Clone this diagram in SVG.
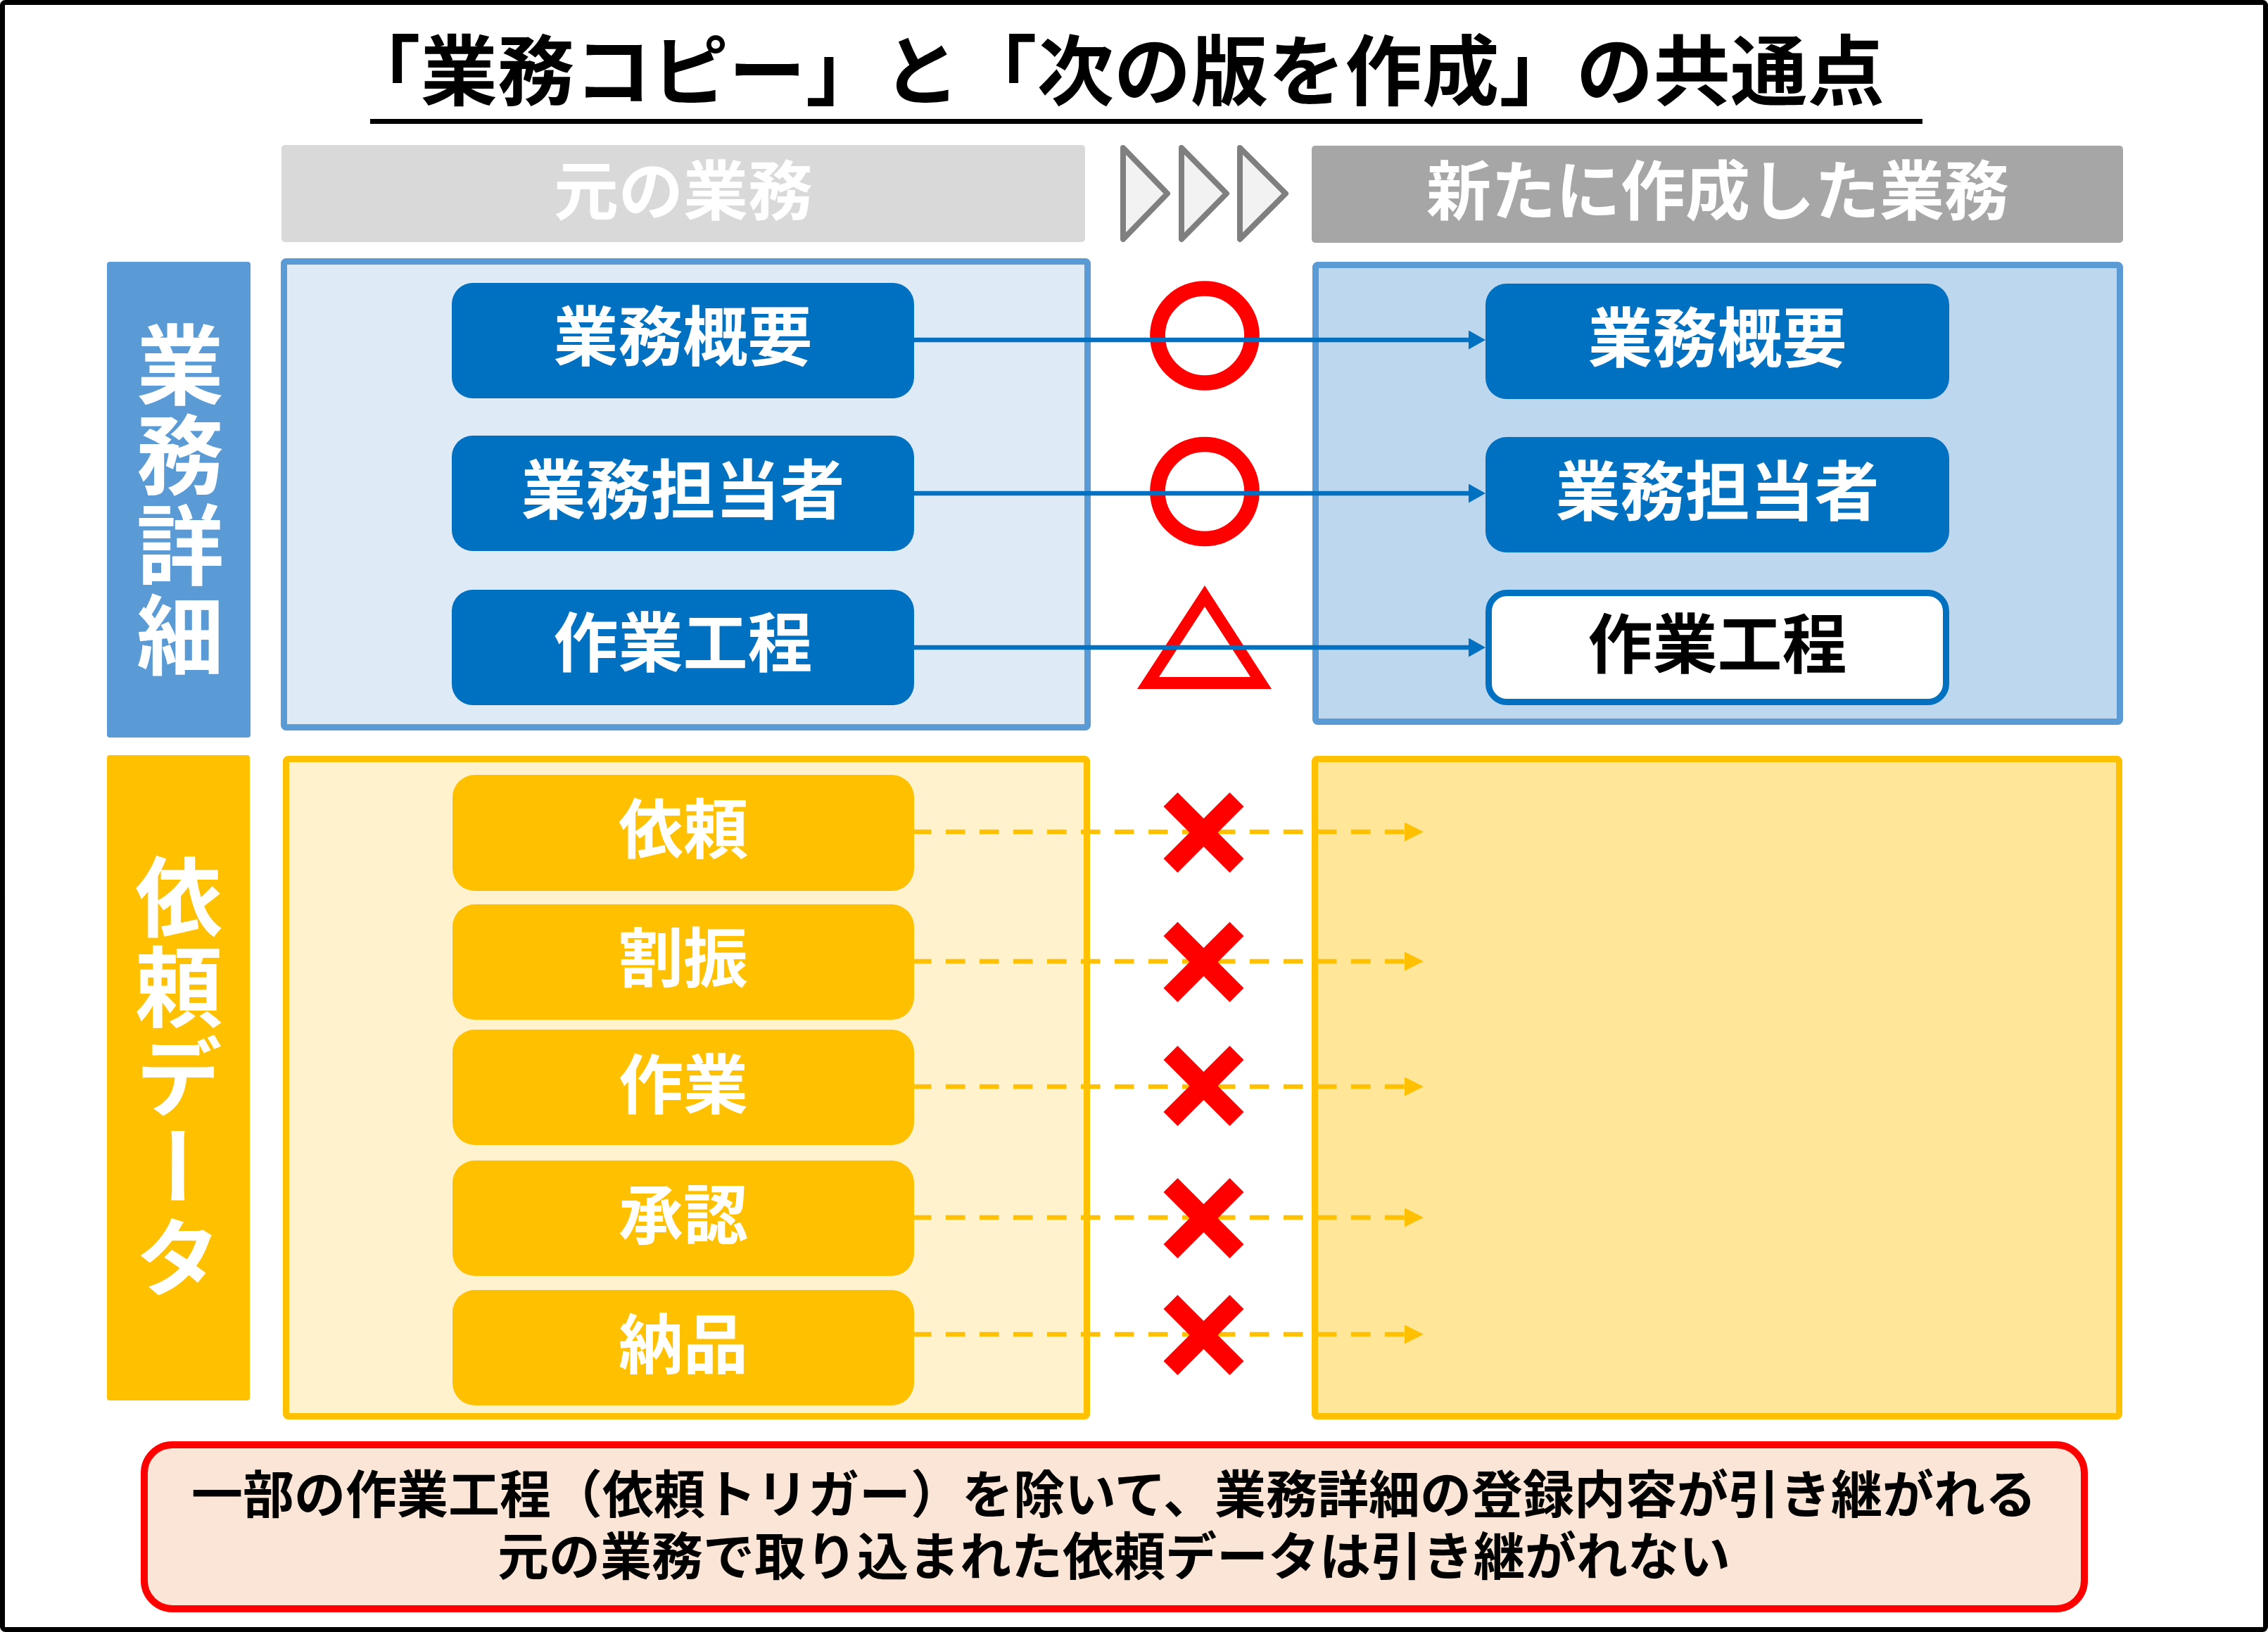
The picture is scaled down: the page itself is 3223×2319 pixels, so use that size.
<svg xmlns="http://www.w3.org/2000/svg" width="3223" height="2319" viewBox="0 0 3223 2319">
<style>
text{font-family:'Noto Sans CJK JP','Noto Sans CJK SC',sans-serif;font-weight:700;}
.w{fill:#ffffff;}
.k{fill:#000000;}
.mid{text-anchor:middle;}
.hd{font-size:92px;}
.nd{font-size:92px;}
.vt{font-size:124px;writing-mode:vertical-rl;letter-spacing:4px;}
.note{font-size:73px;}
.bnode{fill:#0070c0;}
.ynode{fill:#ffc000;}
.cb{stroke:#0070c0;stroke-width:6.5;fill:none;}
.cy{stroke:#ffc000;stroke-width:6.5;fill:none;stroke-dasharray:27.5 20.5;}
.chev{fill:#f2f2f2;stroke:#7f7f7f;stroke-width:8;stroke-linejoin:round;}
</style>
<defs>
<marker id="ab" markerUnits="userSpaceOnUse" markerWidth="24" markerHeight="27" refX="13" refY="13.5" orient="auto">
<path d="M0,0 L24,13.5 L0,27 Z" fill="#0070c0"/>
</marker>
<marker id="ay" markerUnits="userSpaceOnUse" markerWidth="27" markerHeight="27" refX="5" refY="13.5" orient="auto">
<path d="M0,0 L27,13.5 L0,27 Z" fill="#ffc000"/>
</marker>
<polygon id="xm" points="-57,-37 -37,-57 0,-20 37,-57 57,-37 20,0 57,37 37,57 0,20 -37,57 -57,37 -20,0" fill="#ff0000"/>
</defs>

<rect id="frame" x="3.5" y="3.5" width="3216" height="2312" rx="4" fill="#ffffff" stroke="#000000" stroke-width="7"/>

<g id="title">
<text class="k mid" x="1583" y="141" font-size="109.5">「業務コピー」と「次の版を作成」の共通点</text>
<rect x="526" y="169" width="2206" height="7" fill="#000000"/>
</g>

<g id="header-original">
<rect x="400" y="206" width="1142" height="138" rx="5" fill="#d9d9d9"/>
<text class="w mid hd" x="971" y="305">元の業務</text>
</g>

<g id="chevrons">
<polygon class="chev" points="1596,210 1659,275 1596,340"/>
<polygon class="chev" points="1679,210 1743,275 1679,340"/>
<polygon class="chev" points="1762,210 1827,275 1762,340"/>
</g>

<g id="header-new">
<rect x="1864" y="207" width="1153" height="138" rx="5" fill="#a6a6a6"/>
<text class="w mid hd" x="2441" y="305">新たに作成した業務</text>
</g>

<g id="label-detail">
<rect x="152" y="372" width="204" height="676" rx="4" fill="#5b9bd5"/>
<text class="w mid vt" x="256" y="712">業務詳細</text>
</g>

<g id="panel-detail-left">
<rect x="403.5" y="371.5" width="1142" height="662" rx="3" fill="#deebf7" stroke="#5b9bd5" stroke-width="9"/>
</g>
<g id="panel-detail-right">
<rect x="1869.5" y="376.5" width="1143" height="649" rx="3" fill="#bdd7ee" stroke="#5b9bd5" stroke-width="9"/>
</g>

<g id="label-request">
<rect x="152" y="1073" width="203" height="917" rx="4" fill="#ffc000"/>
<text class="w mid vt" x="254" y="1532">依頼データ</text>
</g>

<g id="panel-request-left">
<rect x="406.5" y="1078.5" width="1138" height="934" rx="3" fill="#fff2cc" stroke="#ffc000" stroke-width="9"/>
</g>
<g id="panel-request-right">
<rect x="1868.5" y="1078.5" width="1143" height="934" rx="3" fill="#ffe699" stroke="#ffc000" stroke-width="9"/>
</g>

<g id="src-overview"><rect class="bnode" x="642" y="402" width="657" height="164" rx="30"/><text class="w mid nd" x="970.5" y="512">業務概要</text></g>
<g id="src-owner"><rect class="bnode" x="642" y="619" width="657" height="164" rx="30"/><text class="w mid nd" x="970.5" y="730">業務担当者</text></g>
<g id="src-process"><rect class="bnode" x="642" y="838" width="657" height="164" rx="30"/><text class="w mid nd" x="970.5" y="947">作業工程</text></g>

<g id="dst-overview"><rect class="bnode" x="2111" y="403" width="659" height="164" rx="30"/><text class="w mid nd" x="2440.5" y="514">業務概要</text></g>
<g id="dst-owner"><rect class="bnode" x="2111" y="621" width="659" height="164" rx="30"/><text class="w mid nd" x="2440.5" y="732">業務担当者</text></g>
<g id="dst-process"><rect x="2115.5" y="842.5" width="650" height="155" rx="26" fill="#ffffff" stroke="#0070c0" stroke-width="9"/><text class="k mid nd" x="2440.5" y="949">作業工程</text></g>

<g id="req-irai"><rect class="ynode" x="643" y="1101" width="656" height="165" rx="32"/><text class="w mid nd" x="971" y="1212">依頼</text></g>
<g id="req-warifuri"><rect class="ynode" x="643" y="1285" width="656" height="164" rx="32"/><text class="w mid nd" x="971" y="1395">割振</text></g>
<g id="req-sagyo"><rect class="ynode" x="643" y="1463" width="656" height="164" rx="32"/><text class="w mid nd" x="971" y="1575">作業</text></g>
<g id="req-shonin"><rect class="ynode" x="643" y="1649" width="656" height="164" rx="32"/><text class="w mid nd" x="971" y="1760">承認</text></g>
<g id="req-nohin"><rect class="ynode" x="643" y="1833" width="656" height="164" rx="32"/><text class="w mid nd" x="971" y="1944">納品</text></g>

<g id="marks-ok">
<circle cx="1712" cy="477" r="67" fill="none" stroke="#ff0000" stroke-width="21.7"/>
<circle cx="1712" cy="698.5" r="67" fill="none" stroke="#ff0000" stroke-width="21.7"/>
<path d="M1616,979 L1712,832 L1807,979 Z M1647,962 L1777,962 L1712,862 Z" fill="#ff0000" fill-rule="evenodd"/>
</g>

<g id="connectors">
<line class="cb" x1="1299" y1="483" x2="2100" y2="483" marker-end="url(#ab)"/>
<line class="cb" x1="1299" y1="701" x2="2100" y2="701" marker-end="url(#ab)"/>
<line class="cb" x1="1299" y1="920" x2="2100" y2="920" marker-end="url(#ab)"/>
<line class="cy" x1="1296" y1="1182" x2="2001" y2="1182" marker-end="url(#ay)"/>
<line class="cy" x1="1296" y1="1366" x2="2001" y2="1366" marker-end="url(#ay)"/>
<line class="cy" x1="1296" y1="1544" x2="2001" y2="1544" marker-end="url(#ay)"/>
<line class="cy" x1="1296" y1="1730" x2="2001" y2="1730" marker-end="url(#ay)"/>
<line class="cy" x1="1296" y1="1896" x2="2001" y2="1896" marker-end="url(#ay)"/>
</g>

<g id="marks-ng">
<use href="#xm" x="1710.5" y="1183"/>
<use href="#xm" x="1710.5" y="1367"/>
<use href="#xm" x="1710.5" y="1543"/>
<use href="#xm" x="1710.5" y="1731"/>
<use href="#xm" x="1710.5" y="1897"/>
</g>

<g id="note">
<rect x="205" y="2053" width="2757" height="233" rx="40" fill="#fbe5d6" stroke="#ff0000" stroke-width="10"/>
<text class="k mid note" x="1583" y="2150">一部の作業工程（依頼トリガー）を除いて、業務詳細の登録内容が引き継がれる</text>
<text class="k mid note" x="1583" y="2238">元の業務で取り込まれた依頼データは引き継がれない</text>
</g>
</svg>
